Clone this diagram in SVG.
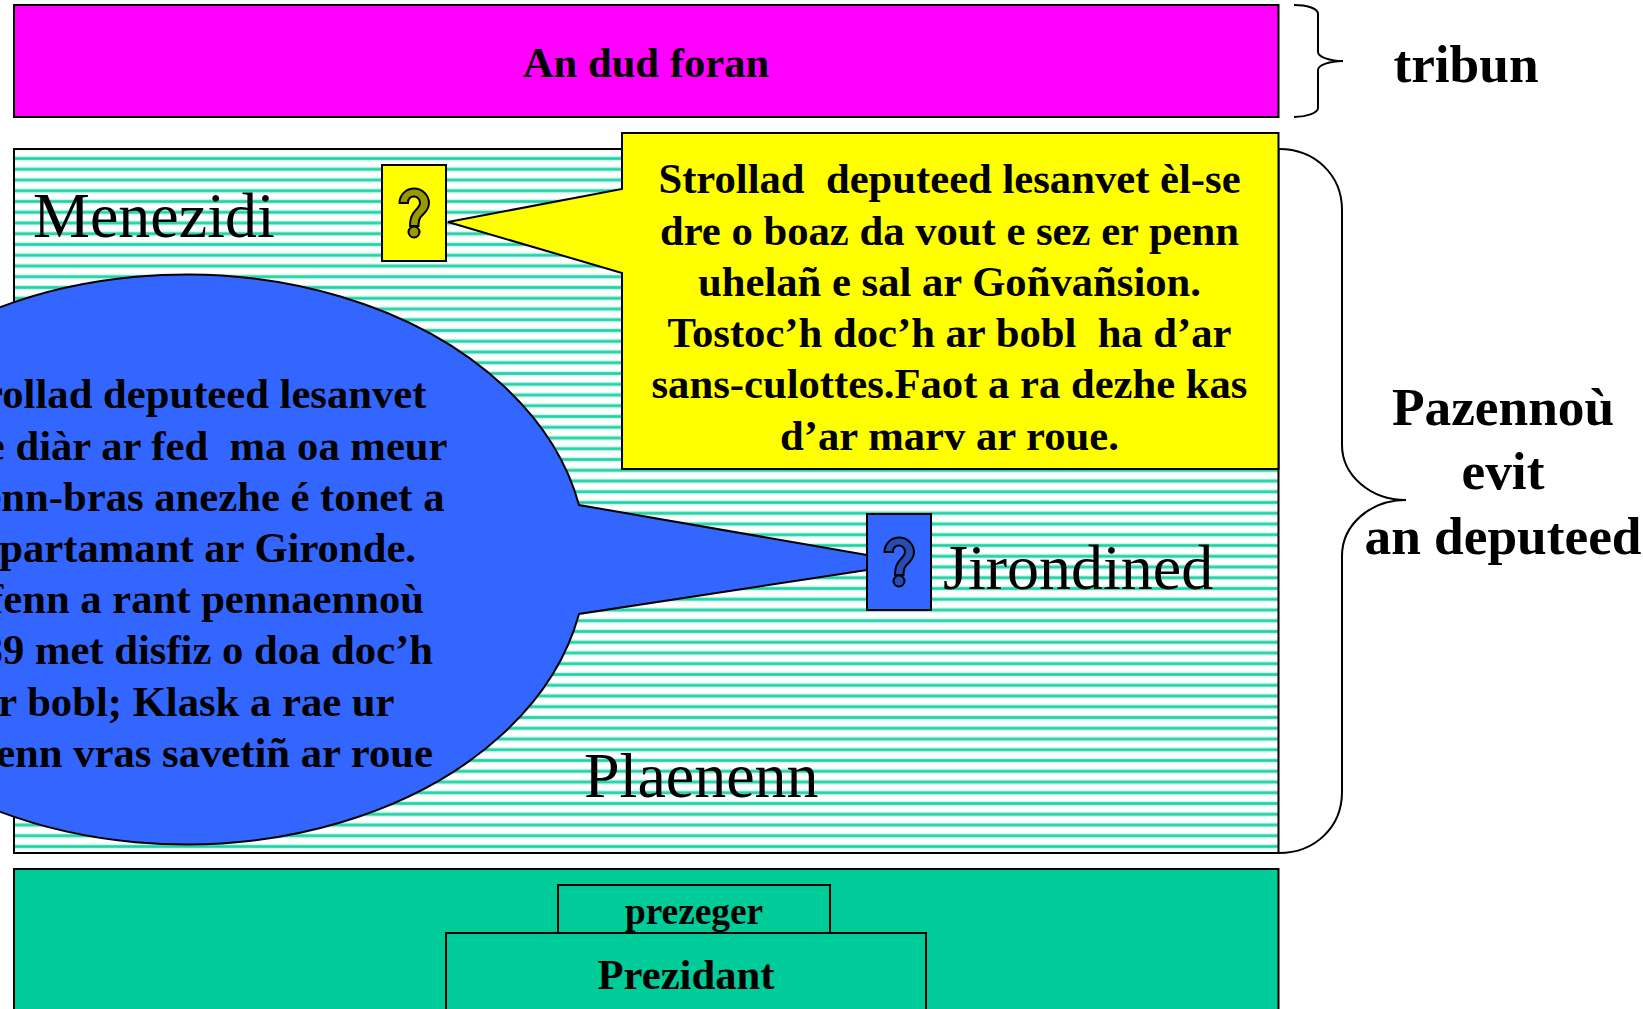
<svg xmlns="http://www.w3.org/2000/svg" width="1643" height="1009" viewBox="0 0 1643 1009">
<style>
.b{font-family:"Liberation Serif","Times New Roman",serif;font-weight:bold;fill:#000;text-anchor:middle;white-space:pre}
.e{text-anchor:end}
.r{font-family:"Liberation Serif","Times New Roman",serif;fill:#000;font-size:64px}
.s{stroke:#000;stroke-width:2}
.c{font-size:42.67px}
.t{font-size:53.33px}
.br{fill:none;stroke:#000;stroke-width:2}
</style>
<defs>
<pattern id="st" patternUnits="userSpaceOnUse" width="100" height="10.75" y="153.1">
<rect width="100" height="10.75" fill="#fff"/>
<rect y="2.7" width="100" height="5.4" fill="#00cc99" opacity=".2"/>
<rect y="4.1" width="100" height="2.6" fill="#00cc99" opacity=".85"/>
</pattern>
</defs>
<rect width="1643" height="1009" fill="#fff"/>
<g id="foran"><rect x="14" y="5" width="1264.5" height="112" fill="#ff00ff" class="s"/>
<text x="646" y="77" class="b c">An dud foran</text></g>
<g id="plaenenn"><rect x="14" y="149" width="1264.5" height="704" fill="url(#st)" class="s"/>
<text x="584" y="797" class="r">Plaenenn</text></g>
<g id="menezidi-label"><text x="33" y="237" class="r">Menezidi</text></g>
<g id="menezidi-callout"><path d="M622 133H1278.500V469H622V273L448 222L622 189Z" fill="#ffff00" class="s"/>
<text class="b c" x="949.500" y="193">Strollad  deputeed lesanvet èl-se</text>
<text class="b c" x="949.500" y="245">dre o boaz da vout e sez er penn</text>
<text class="b c" x="949.500" y="296">uhelañ e sal ar Goñvañsion.</text>
<text class="b c" x="949.500" y="347">Tostoc’h doc’h ar bobl  ha d’ar</text>
<text class="b c" x="949.500" y="398">sans-culottes.Faot a ra dezhe kas</text>
<text class="b c" x="949.500" y="450">d’ar marv ar roue.</text></g>
<g id="menezidi-box"><rect x="382" y="165" width="64" height="96" fill="#ffff00" class="s"/>
<path d="M399.500 203C399.500 194 407 188.500 414 188.500C423 188.500 429 196 429 203C429 210 424.500 213 421.500 216C418.500 219 418.500 222 418.500 226L410 226C410 219 411 215 415 211C418 208 420 206 420 203C420 199 417 196.500 414 196.500C410 196.500 408 199 408 203Z" fill="#999900" class="s"/>
<circle cx="414" cy="232" r="5.500" fill="#999900" class="s"/></g>
<g id="jirondined-callout"><path d="M579 505A400 285 0 1 0 579 614L913 563Z" fill="#3366ff" class="s"/>
<text class="b c e" x="426.500" y="408">Strollad deputeed lesanvet</text>
<text class="b c e" x="447.500" y="460">Ar re diàr ar fed  ma oa meur</text>
<text class="b c e" x="444.500" y="511">a benn-bras anezhe é tonet a</text>
<text class="b c e" x="416" y="562">departamant ar Gironde.</text>
<text class="b c e" x="424" y="613">Difenn a rant pennaennoù</text>
<text class="b c e" x="433" y="664">1789 met disfiz o doa doc’h</text>
<text class="b c e" x="394.500" y="716">ar bobl; Klask a rae ur</text>
<text class="b c e" x="433" y="767">penn vras savetiñ ar roue</text></g>
<g id="jirondined-box"><rect x="867" y="514" width="64" height="96" fill="#3366ff" class="s"/>
<path d="M884.500 552C884.500 543 892 537.500 899 537.500C908 537.500 914 545 914 552C914 559 909.500 562 906.500 565C903.500 568 903.500 571 903.500 575L895 575C895 568 896 564 900 560C903 557 905 555 905 552C905 548 902 545.500 899 545.500C895 545.500 893 548 893 552Z" fill="#264db3" class="s"/>
<circle cx="899" cy="581" r="5.500" fill="#264db3" class="s"/></g>
<g id="jirondined-label"><text x="943" y="589" class="r">Jirondined</text></g>
<g id="bureau"><rect x="14" y="869" width="1264.500" height="160" fill="#00cc99" class="s"/></g>
<g id="prezeger"><rect x="558" y="885" width="272" height="60" fill="#00cc99" class="s"/>
<text x="694" y="924" class="b" font-size="37.33">prezeger</text></g>
<g id="prezidant"><rect x="446" y="933" width="480" height="100" fill="#00cc99" class="s"/>
<text x="686" y="989" class="b c">Prezidant</text></g>
<g id="braces">
<path class="br" d="M1294 5C1306 5 1318 8 1318 14V52C1318 57 1330 61 1343 61C1330 61 1318 65 1318 70V108C1318 113 1306 117 1294 117"/>
<path class="br" d="M1279 149C1315 149 1342 175 1342 210V445C1342 475 1370 500 1406 500C1370 500 1342 525 1342 556V792C1342 827 1315 853 1279 853"/>
</g>
<g id="labels">
<text x="1466" y="82" class="b t">tribun</text>
<text x="1503" y="425" class="b t">Pazennoù</text>
<text x="1503" y="489" class="b t">evit</text>
<text x="1503" y="554" class="b t">an deputeed</text>
</g>
</svg>
